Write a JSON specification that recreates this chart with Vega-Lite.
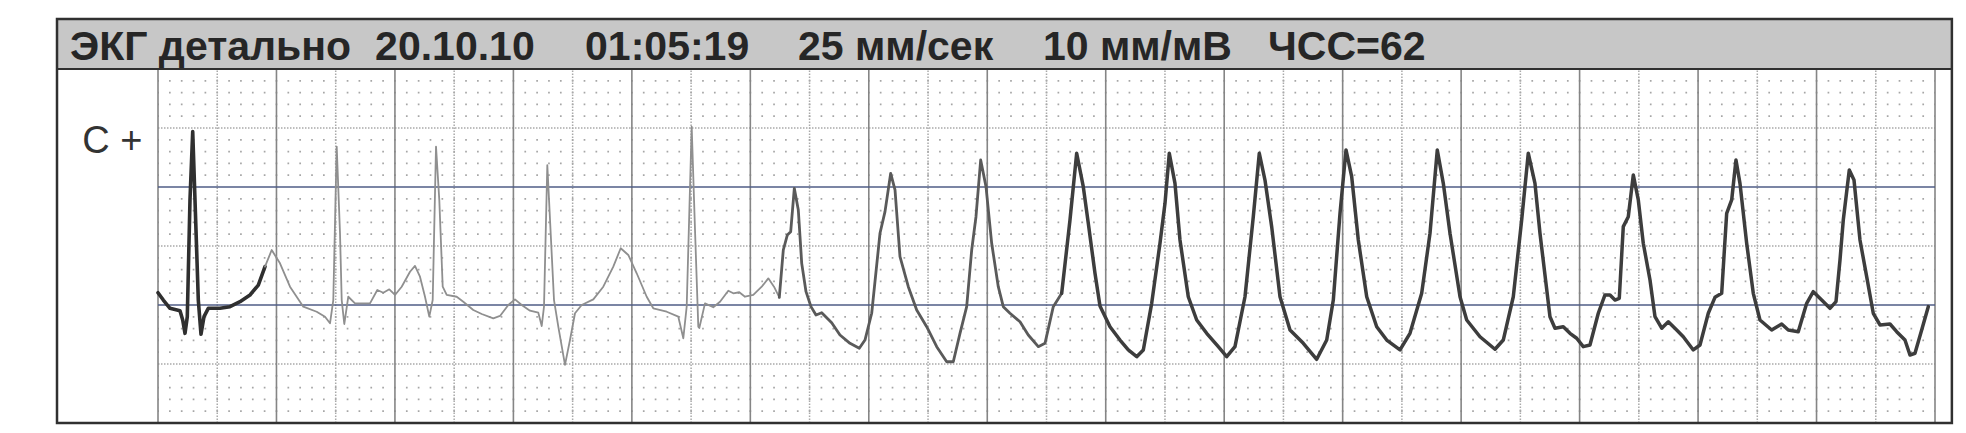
{
  "$schema": "https://vega.github.io/schema/vega-lite/v6.json",
  "width": 1777,
  "height": 354,
  "autosize": "none",
  "padding": {"left": 158, "top": 69, "right": 31, "bottom": 10},
  "background": "#ffffff",
  "config": {"view": {"stroke": null}},
  "datasets": {
    "one": [{}],
    "vsolid": [{"t":0},{"t":0.4},{"t":0.8},{"t":1.2},{"t":1.6},{"t":2.0},{"t":2.4},{"t":2.8},{"t":3.2},{"t":3.6},{"t":4.0},{"t":4.4},{"t":4.8},{"t":5.2},{"t":5.6},{"t":6.0}],
    "vdot": [{"t":0.2},{"t":0.6},{"t":1.0},{"t":1.4},{"t":1.8},{"t":2.2},{"t":2.6},{"t":3.0},{"t":3.4},{"t":3.8},{"t":4.2},{"t":4.6},{"t":5.0},{"t":5.4},{"t":5.8}],
    "hsolid": [{"v":0},{"v":1}],
    "hdot": [{"v":-0.5},{"v":0.5},{"v":1.5}],
    "hminor": [{"v":-0.9},{"v":-0.8},{"v":-0.7},{"v":-0.6},{"v":-0.4},{"v":-0.3},{"v":-0.2},{"v":-0.1},{"v":0.1},{"v":0.2},{"v":0.3},{"v":0.4},{"v":0.6},{"v":0.7},{"v":0.8},{"v":0.9},{"v":1.1},{"v":1.2},{"v":1.3},{"v":1.4},{"v":1.6},{"v":1.7},{"v":1.8},{"v":1.9}],
    "hdr": [{"label":"ЭКГ детально","t":-0.297},{"label":"20.10.10","t":0.733},{"label":"01:05:19","t":1.442},{"label":"25 мм/сек","t":2.161},{"label":"10 мм/мВ","t":2.988},{"label":"ЧСС=62","t":3.748}],
    "ecg": [
      {"t":0.0000,"v":0.104,"s":"a"},{"t":0.0179,"v":0.042,"s":"a"},{"t":0.0405,"v":-0.028,"s":"a"},{"t":0.0743,"v":-0.048,"s":"a"},{"t":0.0834,"v":-0.127,"s":"a"},{"t":0.0912,"v":-0.240,"s":"a"},{"t":0.0989,"v":-0.099,"s":"a"},{"t":0.1080,"v":0.890,"s":"a"},{"t":0.1172,"v":1.469,"s":"a"},{"t":0.1249,"v":0.890,"s":"a"},{"t":0.1361,"v":0.042,"s":"a"},{"t":0.1452,"v":-0.248,"s":"a"},{"t":0.1553,"v":-0.099,"s":"a"},{"t":0.1698,"v":-0.028,"s":"a"},{"t":0.2093,"v":-0.028,"s":"a"},{"t":0.2431,"v":-0.014,"s":"a"},{"t":0.2769,"v":0.028,"s":"a"},{"t":0.3106,"v":0.085,"s":"a"},{"t":0.3387,"v":0.169,"s":"a"},{"t":0.3613,"v":0.325,"s":"a"},
      {"t":0.3613,"v":0.325,"s":"b"},{"t":0.3839,"v":0.466,"s":"b"},{"t":0.4119,"v":0.353,"s":"b"},{"t":0.4457,"v":0.155,"s":"b"},{"t":0.4906,"v":-0.014,"s":"b"},{"t":0.5358,"v":-0.057,"s":"b"},{"t":0.5639,"v":-0.099,"s":"b"},{"t":0.5808,"v":-0.155,"s":"b"},{"t":0.5919,"v":0.042,"s":"b"},{"t":0.6034,"v":1.342,"s":"b"},{"t":0.6145,"v":0.610,"s":"b"},{"t":0.6203,"v":0.042,"s":"b"},{"t":0.6290,"v":-0.161,"s":"b"},{"t":0.6425,"v":0.070,"s":"b"},{"t":0.6652,"v":0.014,"s":"b"},{"t":0.7158,"v":0.014,"s":"b"},{"t":0.7405,"v":0.127,"s":"b"},{"t":0.7607,"v":0.104,"s":"b"},{"t":0.7810,"v":0.133,"s":"b"},{"t":0.8002,"v":0.085,"s":"b"},{"t":0.8228,"v":0.155,"s":"b"},{"t":0.8509,"v":0.282,"s":"b"},{"t":0.8677,"v":0.331,"s":"b"},{"t":0.8846,"v":0.240,"s":"b"},{"t":0.9015,"v":0.070,"s":"b"},{"t":0.9160,"v":-0.099,"s":"b"},{"t":0.9275,"v":0.042,"s":"b"},{"t":0.9387,"v":1.342,"s":"b"},{"t":0.9498,"v":0.890,"s":"b"},{"t":0.9613,"v":0.155,"s":"b"},{"t":0.9748,"v":0.085,"s":"b"},{"t":1.0086,"v":0.070,"s":"b"},{"t":1.0308,"v":0.028,"s":"b"},{"t":1.0646,"v":-0.042,"s":"b"},{"t":1.0930,"v":-0.076,"s":"b"},{"t":1.1321,"v":-0.113,"s":"b"},{"t":1.1548,"v":-0.093,"s":"b"},{"t":1.1828,"v":0.000,"s":"b"},{"t":1.2054,"v":0.048,"s":"b"},{"t":1.2280,"v":0.000,"s":"b"},{"t":1.2560,"v":-0.048,"s":"b"},{"t":1.2841,"v":-0.065,"s":"b"},{"t":1.2956,"v":-0.178,"s":"b"},{"t":1.3033,"v":-0.014,"s":"b"},{"t":1.3145,"v":1.186,"s":"b"},{"t":1.3259,"v":0.608,"s":"b"},{"t":1.3371,"v":0.042,"s":"b"},{"t":1.3516,"v":-0.184,"s":"b"},{"t":1.3742,"v":-0.508,"s":"b"},{"t":1.3911,"v":-0.297,"s":"b"},{"t":1.4080,"v":-0.070,"s":"b"},{"t":1.4306,"v":0.000,"s":"b"},{"t":1.4698,"v":0.048,"s":"b"},{"t":1.5035,"v":0.155,"s":"b"},{"t":1.5373,"v":0.325,"s":"b"},{"t":1.5623,"v":0.481,"s":"b"},{"t":1.5879,"v":0.424,"s":"b"},{"t":1.6163,"v":0.269,"s":"b"},{"t":1.6501,"v":0.070,"s":"b"},{"t":1.6723,"v":-0.028,"s":"b"},{"t":1.7176,"v":-0.057,"s":"b"},{"t":1.7568,"v":-0.099,"s":"b"},{"t":1.7737,"v":-0.282,"s":"b"},{"t":1.7851,"v":-0.014,"s":"b"},{"t":1.8020,"v":1.511,"s":"b"},{"t":1.8132,"v":0.636,"s":"b"},{"t":1.8243,"v":-0.184,"s":"b"},{"t":1.8277,"v":-0.195,"s":"b"},{"t":1.8469,"v":0.014,"s":"b"},{"t":1.8749,"v":-0.019,"s":"b"},{"t":1.8976,"v":0.028,"s":"b"},{"t":1.9256,"v":0.121,"s":"b"},{"t":1.9425,"v":0.099,"s":"b"},{"t":1.9627,"v":0.108,"s":"b"},{"t":1.9820,"v":0.070,"s":"b"},{"t":2.0100,"v":0.085,"s":"b"},{"t":2.0384,"v":0.155,"s":"b"},{"t":2.0607,"v":0.226,"s":"b"},{"t":2.0799,"v":0.155,"s":"b"},{"t":2.0978,"v":0.065,"s":"b"},
      {"t":2.0978,"v":0.065,"s":"c"},{"t":2.1113,"v":0.466,"s":"c"},{"t":2.1248,"v":0.593,"s":"c"},{"t":2.1363,"v":0.621,"s":"c"},{"t":2.1485,"v":0.989,"s":"c"},{"t":2.1620,"v":0.805,"s":"c"},{"t":2.1735,"v":0.353,"s":"c"},{"t":2.1880,"v":0.113,"s":"c"},{"t":2.2048,"v":-0.014,"s":"c"},{"t":2.2217,"v":-0.085,"s":"c"},{"t":2.2410,"v":-0.065,"s":"c"},{"t":2.2747,"v":-0.150,"s":"c"},{"t":2.3027,"v":-0.254,"s":"c"},{"t":2.3365,"v":-0.325,"s":"c"},{"t":2.3679,"v":-0.367,"s":"c"},{"t":2.3871,"v":-0.297,"s":"c"},{"t":2.4098,"v":-0.070,"s":"c"},{"t":2.4378,"v":0.608,"s":"c"},{"t":2.4547,"v":0.791,"s":"c"},{"t":2.4739,"v":1.116,"s":"c"},{"t":2.4885,"v":0.975,"s":"c"},{"t":2.5053,"v":0.409,"s":"c"},{"t":2.5334,"v":0.155,"s":"c"},{"t":2.5617,"v":-0.042,"s":"c"},{"t":2.5955,"v":-0.184,"s":"c"},{"t":2.6293,"v":-0.353,"s":"c"},{"t":2.6630,"v":-0.481,"s":"c"},{"t":2.6853,"v":-0.481,"s":"c"},{"t":2.7079,"v":-0.240,"s":"c"},{"t":2.7305,"v":-0.014,"s":"c"},{"t":2.7474,"v":0.466,"s":"c"},{"t":2.7619,"v":0.748,"s":"c"},{"t":2.7778,"v":1.229,"s":"c"},{"t":2.7957,"v":1.003,"s":"c"},{"t":2.8149,"v":0.523,"s":"c"},{"t":2.8372,"v":0.155,"s":"c"},{"t":2.8541,"v":-0.014,"s":"c"},{"t":2.8767,"v":-0.070,"s":"c"},{"t":2.9105,"v":-0.142,"s":"c"},{"t":2.9385,"v":-0.254,"s":"c"},{"t":2.9723,"v":-0.353,"s":"c"},{"t":2.9949,"v":-0.325,"s":"c"},{"t":3.0229,"v":-0.014,"s":"c"},{"t":3.0513,"v":0.099,"s":"c"},
      {"t":3.0513,"v":0.099,"s":"d"},{"t":3.0793,"v":0.720,"s":"d"},{"t":3.1019,"v":1.286,"s":"d"},{"t":3.1242,"v":1.003,"s":"d"},{"t":3.1411,"v":0.692,"s":"d"},{"t":3.1637,"v":0.269,"s":"d"},{"t":3.1806,"v":-0.008,"s":"d"},{"t":3.2144,"v":-0.184,"s":"d"},{"t":3.2482,"v":-0.297,"s":"d"},{"t":3.2762,"v":-0.381,"s":"d"},{"t":3.3046,"v":-0.438,"s":"d"},{"t":3.3269,"v":-0.381,"s":"d"},{"t":3.3552,"v":0.014,"s":"d"},{"t":3.3832,"v":0.523,"s":"d"},{"t":3.4001,"v":0.862,"s":"d"},{"t":3.4146,"v":1.286,"s":"d"},{"t":3.4338,"v":1.031,"s":"d"},{"t":3.4507,"v":0.551,"s":"d"},{"t":3.4787,"v":0.070,"s":"d"},{"t":3.5071,"v":-0.127,"s":"d"},{"t":3.5409,"v":-0.240,"s":"d"},{"t":3.5800,"v":-0.353,"s":"d"},{"t":3.6084,"v":-0.438,"s":"d"},{"t":3.6364,"v":-0.353,"s":"d"},{"t":3.6702,"v":0.070,"s":"d"},{"t":3.6982,"v":0.748,"s":"d"},{"t":3.7185,"v":1.286,"s":"d"},{"t":3.7377,"v":1.059,"s":"d"},{"t":3.7603,"v":0.664,"s":"d"},{"t":3.7884,"v":0.070,"s":"d"},{"t":3.8222,"v":-0.212,"s":"d"},{"t":3.8671,"v":-0.325,"s":"d"},{"t":3.9123,"v":-0.460,"s":"d"},{"t":3.9461,"v":-0.297,"s":"d"},{"t":3.9684,"v":0.042,"s":"d"},{"t":3.9910,"v":0.777,"s":"d"},{"t":4.0113,"v":1.314,"s":"d"},{"t":4.0305,"v":1.087,"s":"d"},{"t":4.0528,"v":0.551,"s":"d"},{"t":4.0812,"v":0.070,"s":"d"},{"t":4.1149,"v":-0.184,"s":"d"},{"t":4.1487,"v":-0.297,"s":"d"},{"t":4.1936,"v":-0.381,"s":"d"},{"t":4.2273,"v":-0.240,"s":"d"},{"t":4.2668,"v":0.099,"s":"d"},{"t":4.2949,"v":0.608,"s":"d"},{"t":4.3195,"v":1.314,"s":"d"},{"t":4.3398,"v":1.031,"s":"d"},{"t":4.3624,"v":0.608,"s":"d"},{"t":4.3962,"v":0.070,"s":"d"},{"t":4.4188,"v":-0.127,"s":"d"},{"t":4.4637,"v":-0.269,"s":"d"},{"t":4.5143,"v":-0.375,"s":"d"},{"t":4.5423,"v":-0.297,"s":"d"},{"t":4.5761,"v":0.070,"s":"d"},{"t":4.6044,"v":0.720,"s":"d"},{"t":4.6267,"v":1.286,"s":"d"},{"t":4.6493,"v":1.031,"s":"d"},{"t":4.6662,"v":0.608,"s":"d"},{"t":4.7000,"v":-0.099,"s":"d"},{"t":4.7169,"v":-0.197,"s":"d"},{"t":4.7449,"v":-0.184,"s":"d"},{"t":4.7675,"v":-0.240,"s":"d"},{"t":4.7901,"v":-0.282,"s":"d"},{"t":4.8124,"v":-0.353,"s":"d"},{"t":4.8350,"v":-0.339,"s":"d"},{"t":4.8631,"v":-0.070,"s":"d"},{"t":4.8857,"v":0.085,"s":"d"},{"t":4.9026,"v":0.085,"s":"d"},{"t":4.9195,"v":0.042,"s":"d"},{"t":4.9340,"v":0.057,"s":"d"},{"t":4.9475,"v":0.664,"s":"d"},{"t":4.9644,"v":0.748,"s":"d"},{"t":4.9813,"v":1.102,"s":"d"},{"t":4.9982,"v":0.890,"s":"d"},{"t":5.0150,"v":0.523,"s":"d"},{"t":5.0377,"v":0.212,"s":"d"},{"t":5.0546,"v":-0.099,"s":"d"},{"t":5.0772,"v":-0.197,"s":"d"},{"t":5.0995,"v":-0.142,"s":"d"},{"t":5.1278,"v":-0.212,"s":"d"},{"t":5.1501,"v":-0.269,"s":"d"},{"t":5.1839,"v":-0.381,"s":"d"},{"t":5.2065,"v":-0.339,"s":"d"},{"t":5.2345,"v":-0.070,"s":"d"},{"t":5.2571,"v":0.065,"s":"d"},{"t":5.2797,"v":0.099,"s":"d"},{"t":5.2966,"v":0.777,"s":"d"},{"t":5.3135,"v":0.890,"s":"d"},{"t":5.3280,"v":1.229,"s":"d"},{"t":5.3415,"v":1.031,"s":"d"},{"t":5.3641,"v":0.523,"s":"d"},{"t":5.3864,"v":0.099,"s":"d"},{"t":5.4090,"v":-0.127,"s":"d"},{"t":5.4485,"v":-0.212,"s":"d"},{"t":5.4823,"v":-0.161,"s":"d"},{"t":5.5046,"v":-0.212,"s":"d"},{"t":5.5383,"v":-0.226,"s":"d"},{"t":5.5667,"v":0.014,"s":"d"},{"t":5.5890,"v":0.113,"s":"d"},{"t":5.6174,"v":0.042,"s":"d"},{"t":5.6454,"v":-0.028,"s":"d"},{"t":5.6657,"v":0.028,"s":"d"},{"t":5.6792,"v":0.381,"s":"d"},{"t":5.6903,"v":0.720,"s":"d"},{"t":5.7106,"v":1.144,"s":"d"},{"t":5.7265,"v":1.059,"s":"d"},{"t":5.7467,"v":0.551,"s":"d"},{"t":5.7693,"v":0.240,"s":"d"},{"t":5.7916,"v":-0.070,"s":"d"},{"t":5.8142,"v":-0.169,"s":"d"},{"t":5.8480,"v":-0.161,"s":"d"},{"t":5.8706,"v":-0.226,"s":"d"},{"t":5.8986,"v":-0.297,"s":"d"},{"t":5.9155,"v":-0.424,"s":"d"},{"t":5.9324,"v":-0.409,"s":"d"},{"t":5.9550,"v":-0.212,"s":"d"},{"t":5.9773,"v":-0.014,"s":"d"}
    ]
  },
  "layer": [
    {
      "data": {"name": "one"},
      "mark": {"type": "rect", "fill": "#c7c7c7"},
      "encoding": {
        "x": {"datum": -0.341, "type": "quantitative", "scale": {"domain": [0, 6], "nice": false, "zero": false}, "axis": null},
        "x2": {"datum": 6.057},
        "y": {"datum": 2, "type": "quantitative", "scale": {"domain": [-1, 2], "nice": false, "zero": false}, "axis": null},
        "y2": {"datum": 2.424}
      }
    },
    {
      "data": {"name": "hminor"},
      "mark": {"type": "rule", "stroke": "#a6a6a6", "strokeWidth": 1.7, "strokeDash": [1.7, 10.147], "strokeDashOffset": 0.85},
      "encoding": {
        "y": {"field": "v", "type": "quantitative", "scale": {"domain": [-1, 2], "nice": false, "zero": false}, "axis": null},
        "x": {"datum": 0, "type": "quantitative", "scale": {"domain": [0, 6], "nice": false, "zero": false}, "axis": null},
        "x2": {"datum": 6}
      }
    },
    {
      "data": {"name": "vdot"},
      "mark": {"type": "rule", "stroke": "#a9a9a9", "strokeWidth": 1.5, "strokeDash": [1.5, 1.5]},
      "encoding": {
        "x": {"field": "t", "type": "quantitative", "scale": {"domain": [0, 6], "nice": false, "zero": false}, "axis": null},
        "y": {"datum": -1, "type": "quantitative", "scale": {"domain": [-1, 2], "nice": false, "zero": false}, "axis": null},
        "y2": {"datum": 2}
      }
    },
    {
      "data": {"name": "hdot"},
      "mark": {"type": "rule", "stroke": "#a9a9a9", "strokeWidth": 1.5, "strokeDash": [1.5, 1.5]},
      "encoding": {
        "y": {"field": "v", "type": "quantitative", "scale": {"domain": [-1, 2], "nice": false, "zero": false}, "axis": null},
        "x": {"datum": 0, "type": "quantitative", "scale": {"domain": [0, 6], "nice": false, "zero": false}, "axis": null},
        "x2": {"datum": 6}
      }
    },
    {
      "data": {"name": "vsolid"},
      "mark": {"type": "rule", "stroke": "#858585", "strokeWidth": 1.6},
      "encoding": {
        "x": {"field": "t", "type": "quantitative", "scale": {"domain": [0, 6], "nice": false, "zero": false}, "axis": null},
        "y": {"datum": -1, "type": "quantitative", "scale": {"domain": [-1, 2], "nice": false, "zero": false}, "axis": null},
        "y2": {"datum": 2}
      }
    },
    {
      "data": {"name": "hsolid"},
      "mark": {"type": "rule", "stroke": "#4f5c86", "strokeWidth": 1.5},
      "encoding": {
        "y": {"field": "v", "type": "quantitative", "scale": {"domain": [-1, 2], "nice": false, "zero": false}, "axis": null},
        "x": {"datum": 0, "type": "quantitative", "scale": {"domain": [0, 6], "nice": false, "zero": false}, "axis": null},
        "x2": {"datum": 6}
      }
    },
    {
      "data": {"name": "ecg"},
      "transform": [{"filter": "datum.s === 'a'"}],
      "mark": {"type": "line", "stroke": "#2f2f2f", "strokeWidth": 3.6, "strokeJoin": "round", "strokeCap": "round"},
      "encoding": {
        "x": {"field": "t", "type": "quantitative", "scale": {"domain": [0, 6], "nice": false, "zero": false}, "axis": null},
        "y": {"field": "v", "type": "quantitative", "scale": {"domain": [-1, 2], "nice": false, "zero": false}, "axis": null}
      }
    },
    {
      "data": {"name": "ecg"},
      "transform": [{"filter": "datum.s === 'b'"}],
      "mark": {"type": "line", "stroke": "#8f8f8f", "strokeWidth": 1.8, "strokeJoin": "round", "strokeCap": "round"},
      "encoding": {
        "x": {"field": "t", "type": "quantitative", "scale": {"domain": [0, 6], "nice": false, "zero": false}, "axis": null},
        "y": {"field": "v", "type": "quantitative", "scale": {"domain": [-1, 2], "nice": false, "zero": false}, "axis": null}
      }
    },
    {
      "data": {"name": "ecg"},
      "transform": [{"filter": "datum.s === 'c'"}],
      "mark": {"type": "line", "stroke": "#5a5a5a", "strokeWidth": 2.8, "strokeJoin": "round", "strokeCap": "round"},
      "encoding": {
        "x": {"field": "t", "type": "quantitative", "scale": {"domain": [0, 6], "nice": false, "zero": false}, "axis": null},
        "y": {"field": "v", "type": "quantitative", "scale": {"domain": [-1, 2], "nice": false, "zero": false}, "axis": null}
      }
    },
    {
      "data": {"name": "ecg"},
      "transform": [{"filter": "datum.s === 'd'"}],
      "mark": {"type": "line", "stroke": "#3d3d3d", "strokeWidth": 3.5, "strokeJoin": "round", "strokeCap": "round"},
      "encoding": {
        "x": {"field": "t", "type": "quantitative", "scale": {"domain": [0, 6], "nice": false, "zero": false}, "axis": null},
        "y": {"field": "v", "type": "quantitative", "scale": {"domain": [-1, 2], "nice": false, "zero": false}, "axis": null}
      }
    },
    {
      "data": {"name": "one"},
      "mark": {"type": "rect", "fill": null, "stroke": "#303030", "strokeWidth": 2.5},
      "encoding": {
        "x": {"datum": -0.341, "type": "quantitative", "scale": {"domain": [0, 6], "nice": false, "zero": false}, "axis": null},
        "x2": {"datum": 6.057},
        "y": {"datum": -1, "type": "quantitative", "scale": {"domain": [-1, 2], "nice": false, "zero": false}, "axis": null},
        "y2": {"datum": 2.424}
      }
    },
    {
      "data": {"name": "one"},
      "mark": {"type": "rule", "stroke": "#303030", "strokeWidth": 2.2},
      "encoding": {
        "y": {"datum": 2, "type": "quantitative", "scale": {"domain": [-1, 2], "nice": false, "zero": false}, "axis": null},
        "x": {"datum": -0.341, "type": "quantitative", "scale": {"domain": [0, 6], "nice": false, "zero": false}, "axis": null},
        "x2": {"datum": 6.057}
      }
    },
    {
      "data": {"name": "hdr"},
      "mark": {"type": "text", "font": "Liberation Sans", "fontWeight": "bold", "fontSize": 41, "fill": "#262626", "align": "left", "baseline": "alphabetic"},
      "encoding": {
        "x": {"field": "t", "type": "quantitative", "scale": {"domain": [0, 6], "nice": false, "zero": false}, "axis": null},
        "y": {"datum": 2.076, "type": "quantitative", "scale": {"domain": [-1, 2], "nice": false, "zero": false}, "axis": null},
        "text": {"field": "label", "type": "nominal"}
      }
    },
    {
      "data": {"name": "one"},
      "mark": {"type": "text", "font": "Liberation Sans", "fontWeight": "normal", "fontSize": 38, "fill": "#333333", "align": "left", "baseline": "alphabetic"},
      "encoding": {
        "x": {"datum": -0.256, "type": "quantitative", "scale": {"domain": [0, 6], "nice": false, "zero": false}, "axis": null},
        "y": {"datum": 1.288, "type": "quantitative", "scale": {"domain": [-1, 2], "nice": false, "zero": false}, "axis": null},
        "text": {"value": "С +"}
      }
    }
  ]
}
